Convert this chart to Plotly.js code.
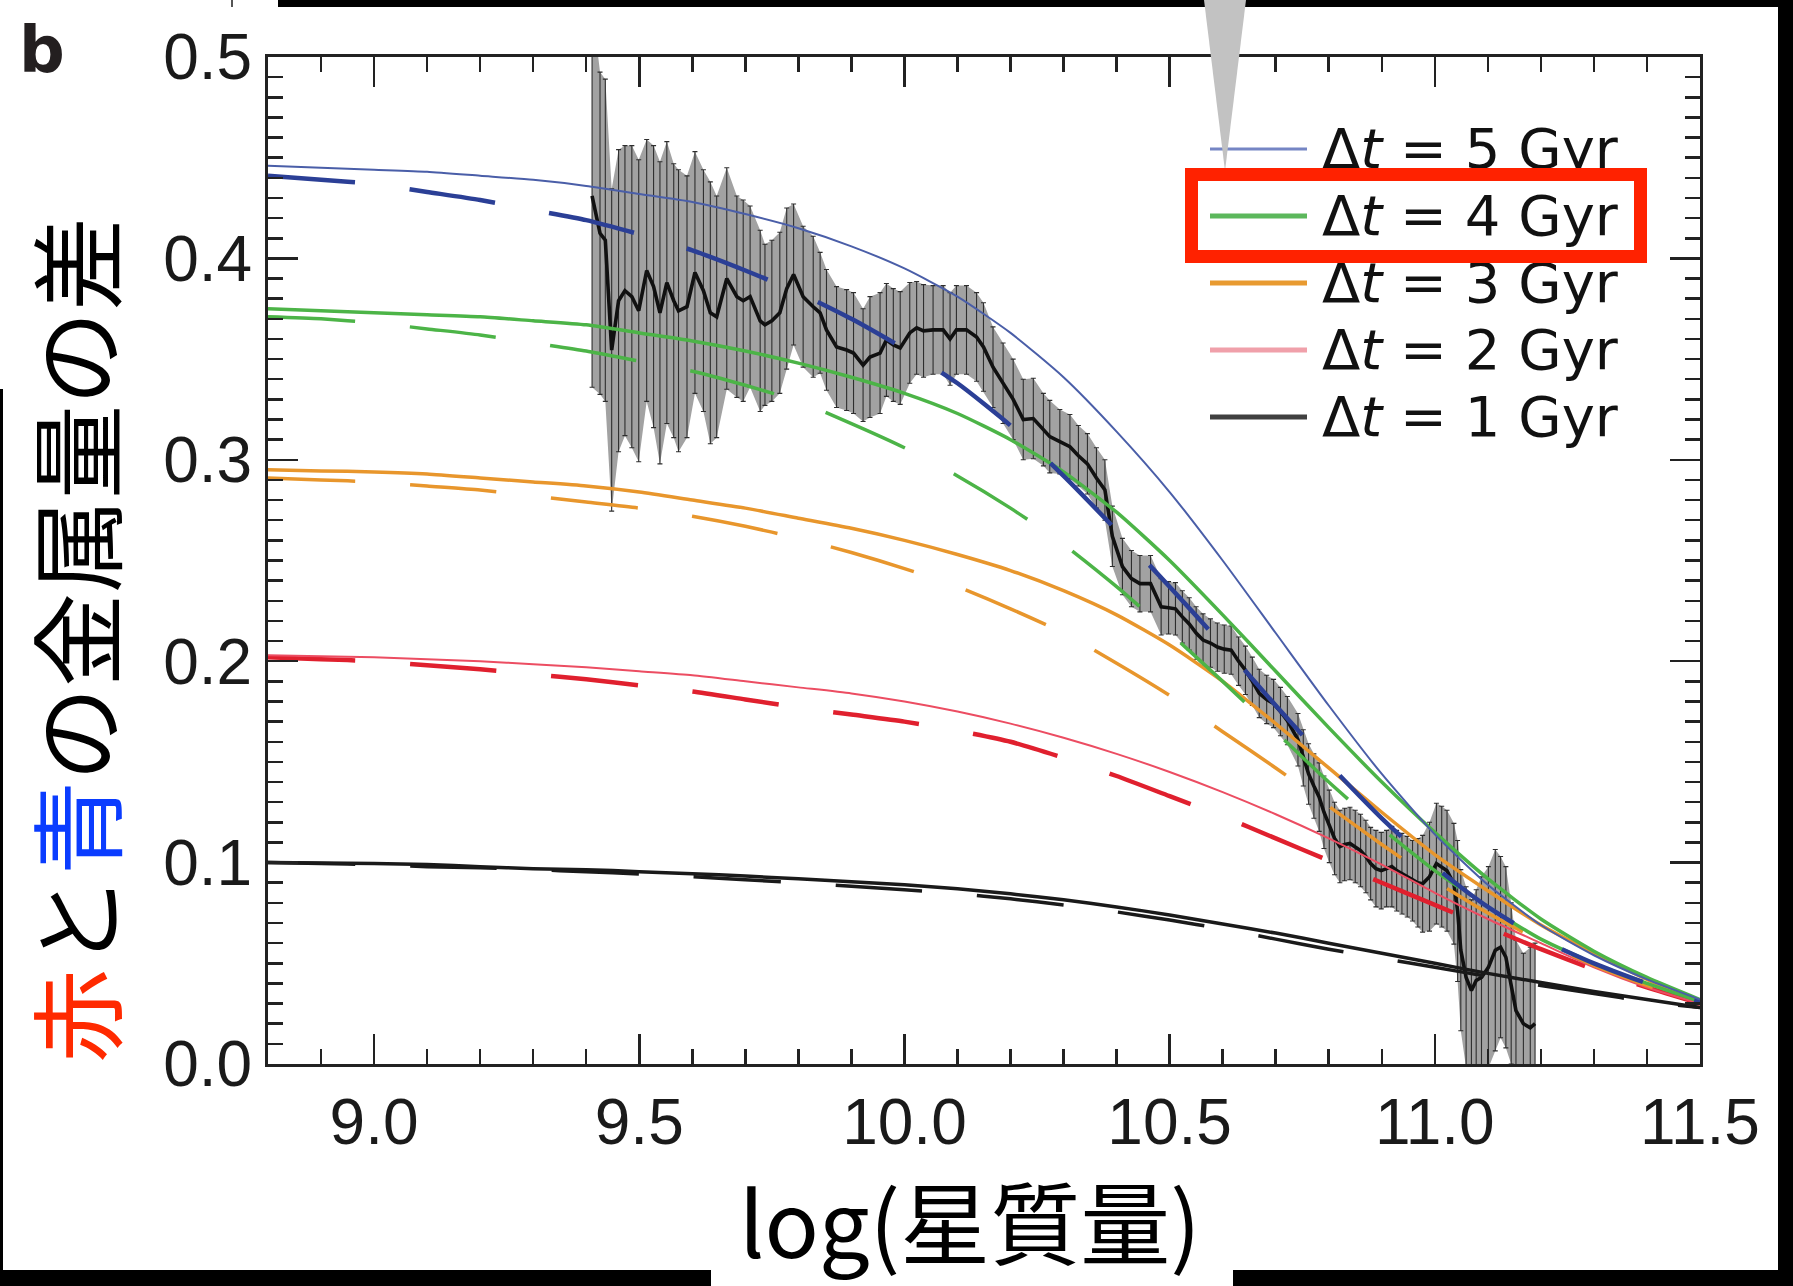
<!DOCTYPE html>
<html><head><meta charset="utf-8">
<script src="https://cdn.plot.ly/plotly-3.0.1.min.js"></script>
<style>html,body{margin:0;padding:0;background:#fff;}#chart{width:1793px;height:1286px;}</style>
</head><body><div id="chart"></div>
<script>
// ---- model curves: log stellar mass grid ----
const massGrid = [8.8, 8.9, 9.0, 9.1, 9.2, 9.3, 9.4, 9.5, 9.6, 9.7, 9.8, 9.9, 10.0, 10.1, 10.2, 10.3, 10.4, 10.5, 10.6, 10.7, 10.8, 10.9, 11.0, 11.1, 11.2, 11.3, 11.4, 11.5];
const dt5Solid = [0.446, 0.445, 0.444, 0.443, 0.441, 0.439, 0.436, 0.432, 0.428, 0.422, 0.415, 0.406, 0.395, 0.381, 0.363, 0.341, 0.314, 0.284, 0.250, 0.214, 0.178, 0.144, 0.114, 0.089, 0.069, 0.054, 0.042, 0.032];
const dt5Dash  = [0.441, 0.439, 0.437, 0.433, 0.429, 0.424, 0.419, 0.412, 0.404, 0.394, 0.383, 0.370, 0.355, 0.338, 0.317, 0.292, 0.265, 0.237, 0.208, 0.178, 0.149, 0.122, 0.098, 0.078, 0.062, 0.050, 0.040, 0.031];
const dt4Solid = [0.375, 0.374, 0.373, 0.372, 0.371, 0.369, 0.367, 0.363, 0.359, 0.354, 0.348, 0.341, 0.333, 0.323, 0.310, 0.294, 0.274, 0.250, 0.223, 0.195, 0.167, 0.140, 0.115, 0.092, 0.072, 0.056, 0.043, 0.032];
const dt4Dash  = [0.371, 0.370, 0.368, 0.365, 0.362, 0.358, 0.354, 0.349, 0.344, 0.337, 0.329, 0.318, 0.306, 0.292, 0.276, 0.258, 0.237, 0.214, 0.190, 0.165, 0.140, 0.117, 0.096, 0.078, 0.062, 0.050, 0.040, 0.031];
const dt3Solid = [0.295, 0.2945, 0.294, 0.293, 0.291, 0.289, 0.287, 0.284, 0.280, 0.276, 0.271, 0.266, 0.260, 0.253, 0.245, 0.235, 0.223, 0.208, 0.190, 0.169, 0.147, 0.125, 0.104, 0.086, 0.069, 0.055, 0.042, 0.031];
const dt3Dash  = [0.291, 0.290, 0.289, 0.287, 0.285, 0.282, 0.279, 0.276, 0.272, 0.267, 0.261, 0.254, 0.246, 0.237, 0.226, 0.214, 0.199, 0.183, 0.165, 0.147, 0.128, 0.109, 0.091, 0.075, 0.061, 0.049, 0.039, 0.030];
const dt2Solid = [0.203, 0.2025, 0.202, 0.201, 0.200, 0.1985, 0.197, 0.195, 0.193, 0.190, 0.187, 0.184, 0.180, 0.175, 0.169, 0.162, 0.154, 0.145, 0.135, 0.124, 0.112, 0.099, 0.085, 0.072, 0.060, 0.048, 0.038, 0.030];
const dt2Dash  = [0.202, 0.201, 0.200, 0.198, 0.196, 0.1935, 0.191, 0.188, 0.185, 0.181, 0.177, 0.1735, 0.170, 0.1655, 0.160, 0.152, 0.143, 0.133, 0.123, 0.112, 0.101, 0.090, 0.079, 0.068, 0.057, 0.047, 0.038, 0.030];
const dt1Solid = [0.100, 0.0998, 0.0995, 0.099, 0.098, 0.097, 0.0965, 0.0955, 0.0945, 0.0933, 0.092, 0.0905, 0.089, 0.087, 0.0845, 0.0815, 0.078, 0.074, 0.0695, 0.065, 0.060, 0.055, 0.050, 0.045, 0.0405, 0.036, 0.032, 0.028];
const dt1Dash  = [0.100, 0.0995, 0.099, 0.098, 0.0975, 0.0965, 0.0955, 0.0943, 0.093, 0.0915, 0.090, 0.0883, 0.0865, 0.0845, 0.082, 0.079, 0.0755, 0.0715, 0.067, 0.062, 0.057, 0.0525, 0.048, 0.0435, 0.039, 0.035, 0.031, 0.028];

// ---- observed data (black line with error bars) ----
const dataX = [9.411, 9.426, 9.436, 9.448, 9.461, 9.473, 9.486, 9.499, 9.514, 9.527, 9.539, 9.552, 9.565, 9.574, 9.590, 9.605, 9.621, 9.634, 9.646, 9.665,
  9.684, 9.696, 9.709, 9.728, 9.737, 9.750, 9.765, 9.778, 9.791, 9.809, 9.828, 9.841, 9.853, 9.872, 9.891, 9.904, 9.922, 9.935, 9.954, 9.966,
  9.979, 9.992, 10.010, 10.023, 10.036, 10.054, 10.073, 10.086, 10.098, 10.117, 10.136, 10.149, 10.167, 10.186, 10.205, 10.224, 10.243, 10.262, 10.274, 10.293,
  10.312, 10.328, 10.345, 10.362, 10.378, 10.392, 10.411, 10.428, 10.444, 10.464, 10.484, 10.498, 10.511, 10.524, 10.537, 10.550, 10.563, 10.577, 10.590, 10.603,
  10.616, 10.630, 10.643, 10.656, 10.669, 10.683, 10.696, 10.709, 10.722, 10.742, 10.752, 10.762, 10.772, 10.782, 10.791, 10.801, 10.811, 10.821, 10.830, 10.840,
  10.850, 10.860, 10.870, 10.879, 10.889, 10.899, 10.909, 10.919, 10.928, 10.938, 10.948, 10.958, 10.968, 10.977, 10.990, 11.003, 11.013, 11.023, 11.036, 11.043,
  11.049, 11.059, 11.069, 11.078, 11.088, 11.101, 11.114, 11.124, 11.134, 11.144, 11.153, 11.167, 11.180, 11.189];
const dataY = [0.431, 0.4125, 0.409, 0.3545, 0.379, 0.384, 0.381, 0.374, 0.394, 0.386, 0.373, 0.388, 0.379, 0.374, 0.376, 0.393, 0.384, 0.373, 0.371, 0.390,
  0.381, 0.379, 0.381, 0.369, 0.367, 0.369, 0.373, 0.385, 0.392, 0.381, 0.376, 0.373, 0.3645, 0.356, 0.3545, 0.353, 0.347, 0.351, 0.353, 0.3595,
  0.357, 0.3555, 0.363, 0.3655, 0.364, 0.3645, 0.3645, 0.360, 0.3645, 0.3645, 0.361, 0.356, 0.346, 0.338, 0.330, 0.320, 0.3205, 0.315, 0.3115, 0.309,
  0.3065, 0.302, 0.298, 0.291, 0.285, 0.262, 0.247, 0.241, 0.2385, 0.2385, 0.227, 0.2265, 0.226, 0.222, 0.2185, 0.214, 0.2105, 0.209, 0.207, 0.206,
  0.2055, 0.200, 0.1955, 0.190, 0.184, 0.181, 0.179, 0.175, 0.1705, 0.161, 0.152, 0.144, 0.138, 0.1325, 0.125, 0.118, 0.112, 0.108, 0.109, 0.1095,
  0.108, 0.106, 0.103, 0.0995, 0.097, 0.096, 0.097, 0.098, 0.096, 0.0945, 0.093, 0.091, 0.090, 0.0895, 0.093, 0.0995, 0.098, 0.096, 0.0895, 0.076,
  0.0565, 0.043, 0.0365, 0.0415, 0.043, 0.048, 0.0565, 0.058, 0.053, 0.040, 0.0265, 0.020, 0.018, 0.020];
const dataErr = [0.095, 0.08, 0.08, 0.08, 0.075, 0.072, 0.075, 0.075, 0.065, 0.07, 0.075, 0.07, 0.068, 0.07, 0.065, 0.06, 0.06, 0.065, 0.06, 0.055,
  0.05, 0.05, 0.045, 0.045, 0.04, 0.04, 0.04, 0.04, 0.035, 0.035, 0.035, 0.03, 0.03, 0.03, 0.03, 0.03, 0.028, 0.03, 0.03, 0.028,
  0.028, 0.028, 0.025, 0.023, 0.023, 0.022, 0.022, 0.023, 0.022, 0.022, 0.022, 0.022, 0.02, 0.02, 0.02, 0.02, 0.02, 0.018, 0.018, 0.016,
  0.016, 0.015, 0.015, 0.015, 0.015, 0.015, 0.014, 0.014, 0.014, 0.014, 0.014, 0.013, 0.013, 0.013, 0.013, 0.013, 0.013, 0.012, 0.012, 0.012,
  0.012, 0.012, 0.012, 0.012, 0.012, 0.012, 0.012, 0.012, 0.012, 0.013, 0.014, 0.015, 0.016, 0.017, 0.018, 0.018, 0.018, 0.018, 0.018, 0.018,
  0.018, 0.018, 0.018, 0.018, 0.019, 0.019, 0.019, 0.02, 0.02, 0.02, 0.02, 0.02, 0.022, 0.024, 0.027, 0.03, 0.03, 0.03, 0.03, 0.035,
  0.04, 0.045, 0.045, 0.045, 0.05, 0.05, 0.05, 0.045, 0.045, 0.04, 0.035, 0.035, 0.04, 0.04];

const legendLabels = ['Δ<i>t</i> = 5 Gyr', 'Δ<i>t</i> = 4 Gyr', 'Δ<i>t</i> = 3 Gyr', 'Δ<i>t</i> = 2 Gyr', 'Δ<i>t</i> = 1 Gyr'];
const xTickVals = [9.0, 9.5, 10.0, 10.5, 11.0, 11.5];
const yTickVals = [0.0, 0.1, 0.2, 0.3, 0.4, 0.5];

// ---- geometry helpers (pixel -> paper) ----
const W = 1793, H = 1286, M = {l: 268, r: 93, t: 57, b: 222};
const PW = W - M.l - M.r, PH = H - M.t - M.b;
const px = X => (X - M.l) / PW;
const py = Y => (H - M.b - Y) / PH;

const DASH = '87px,55px';
function curve(y, color, width, dash) {
  return {x: massGrid, y: y, type: 'scatter', mode: 'lines', showlegend: false, hoverinfo: 'skip',
    line: {color: color, width: width, dash: dash || 'solid', shape: 'spline', smoothing: 0.6}};
}

const upper = dataY.map((v, i) => v + dataErr[i]);
const lower = dataY.map((v, i) => v - dataErr[i]);

const traces = [
  {x: dataX.concat(dataX.slice().reverse()), y: upper.concat(lower.slice().reverse()), type: 'scatter', mode: 'lines',
   fill: 'toself', fillcolor: '#a2a2a2', line: {width: 0}, showlegend: false, hoverinfo: 'skip'},
  {x: dataX, y: dataY, type: 'scatter', mode: 'lines', showlegend: false,
   line: {color: '#111', width: 3.6},
   error_y: {type: 'data', array: dataErr, visible: true, color: '#2e2e2e', thickness: 1.1, width: 2.5}},
  curve(dt1Dash, '#1a1a1a', 3.5, DASH), curve(dt1Solid, '#1a1a1a', 3.5),
  curve(dt2Dash, '#e0202e', 4.5, DASH), curve(dt2Solid, '#ec4d62', 2),
  curve(dt3Dash, '#e8962c', 3.5, DASH), curve(dt3Solid, '#e8962c', 3.5),
  curve(dt4Dash, '#4cb447', 3.5, DASH), curve(dt4Solid, '#4cb447', 3.5),
  curve(dt5Dash, '#2b3f96', 4.5, DASH), curve(dt5Solid, '#4a5ea8', 2)
];

const legendColors = ['#7585c4', '#5cb85c', '#e89a30', '#f0a0aa', '#404040'];
const legendWidths = [3, 5, 5, 5, 5];
const legendRows = [149, 216, 283, 350, 417];

const shapes = [];
const annotations = [];
legendRows.forEach((Y, i) => {
  shapes.push({type: 'line', xref: 'paper', yref: 'paper', x0: px(1210), x1: px(1307), y0: py(Y), y1: py(Y),
    line: {color: legendColors[i], width: legendWidths[i]}});
  annotations.push({xref: 'paper', yref: 'paper', x: px(1320), y: py(Y - 1), xanchor: 'left', yanchor: 'middle',
    text: legendLabels[i], showarrow: false, font: {family: 'DejaVu Sans, sans-serif', size: 56, color: '#111'}});
});

// decorative black frame pieces
function rectPx(x0, y0, x1, y1, color) {
  return {type: 'rect', xref: 'paper', yref: 'paper', x0: px(x0), x1: px(x1), y0: py(y1), y1: py(y0),
    fillcolor: color, line: {width: 0}, layer: 'above'};
}
shapes.push(rectPx(278, 0, 1793, 7, '#000'));
shapes.push(rectPx(1778, 0, 1793, 1286, '#000'));
shapes.push(rectPx(0, 389, 3, 1286, '#000'));
shapes.push(rectPx(0, 1270, 711, 1286, '#000'));
shapes.push(rectPx(1233, 1270, 1793, 1286, '#000'));
shapes.push(rectPx(231, 0, 233, 7, '#555'));
// gray pointer triangle
shapes.push({type: 'path', xref: 'paper', yref: 'paper', layer: 'above',
  path: `M ${px(1204)} ${py(0)} L ${px(1246)} ${py(0)} L ${px(1225)} ${py(171)} Z`,
  fillcolor: '#c2c2c2', line: {width: 0}});

// red highlight box (drawn as annotation border so it sits over legend text)
annotations.push({xref: 'paper', yref: 'paper', x: px(1416), y: py(215.5), xanchor: 'center', yanchor: 'middle',
  text: ' ', showarrow: false, width: 436, height: 69, borderpad: 0, borderwidth: 13, bordercolor: '#ff2200',
  font: {size: 10}});

// panel label
annotations.push({xref: 'paper', yref: 'paper', x: px(17), y: py(50), xanchor: 'left', yanchor: 'middle',
  text: '<b>b</b>', showarrow: false, font: {family: 'DejaVu Sans, sans-serif', size: 64, color: '#231f20'}});
// y title
annotations.push({xref: 'paper', yref: 'paper', x: px(73), y: py(640), xanchor: 'center', yanchor: 'middle', textangle: -90,
  text: '<span style="color:#ff2a00">赤</span>と<span style="color:#0a3cff">青</span>の金属量の差', showarrow: false,
  font: {family: 'Noto Sans CJK JP, sans-serif', size: 94, color: '#000'}});
// x title
annotations.push({xref: 'paper', yref: 'paper', x: px(970), y: py(1219), xanchor: 'center', yanchor: 'middle',
  text: 'log(星質量)', showarrow: false,
  font: {family: 'Noto Sans CJK JP, sans-serif', size: 90, color: '#000'}});

const axisCommon = {
  showline: true, linecolor: '#222', linewidth: 3, mirror: 'ticks',
  ticks: 'inside', ticklen: 30, tickwidth: 2.5, tickcolor: '#222',
  showgrid: false, zeroline: false, tickformat: '.1f',
  tickfont: {family: 'Liberation Sans, Arial, sans-serif', size: 64, color: '#1a1a1a'}
};

const layout = {
  width: W, height: H, margin: M, paper_bgcolor: '#fff', plot_bgcolor: '#fff', showlegend: false,
  xaxis: Object.assign({}, axisCommon, {range: [8.8, 11.5], tickmode: 'array', tickvals: xTickVals,
    minor: {dtick: 0.1, tick0: 8.8, ticks: 'inside', ticklen: 15, tickwidth: 2.5, tickcolor: '#222', showgrid: false}}),
  yaxis: Object.assign({}, axisCommon, {range: [0, 0.5], tickmode: 'array', tickvals: yTickVals,
    minor: {dtick: 0.01, tick0: 0, ticks: 'inside', ticklen: 15, tickwidth: 2.5, tickcolor: '#222', showgrid: false}}),
  shapes: shapes, annotations: annotations
};

Plotly.newPlot('chart', traces, layout, {displayModeBar: false, staticPlot: true});
</script></body></html>
